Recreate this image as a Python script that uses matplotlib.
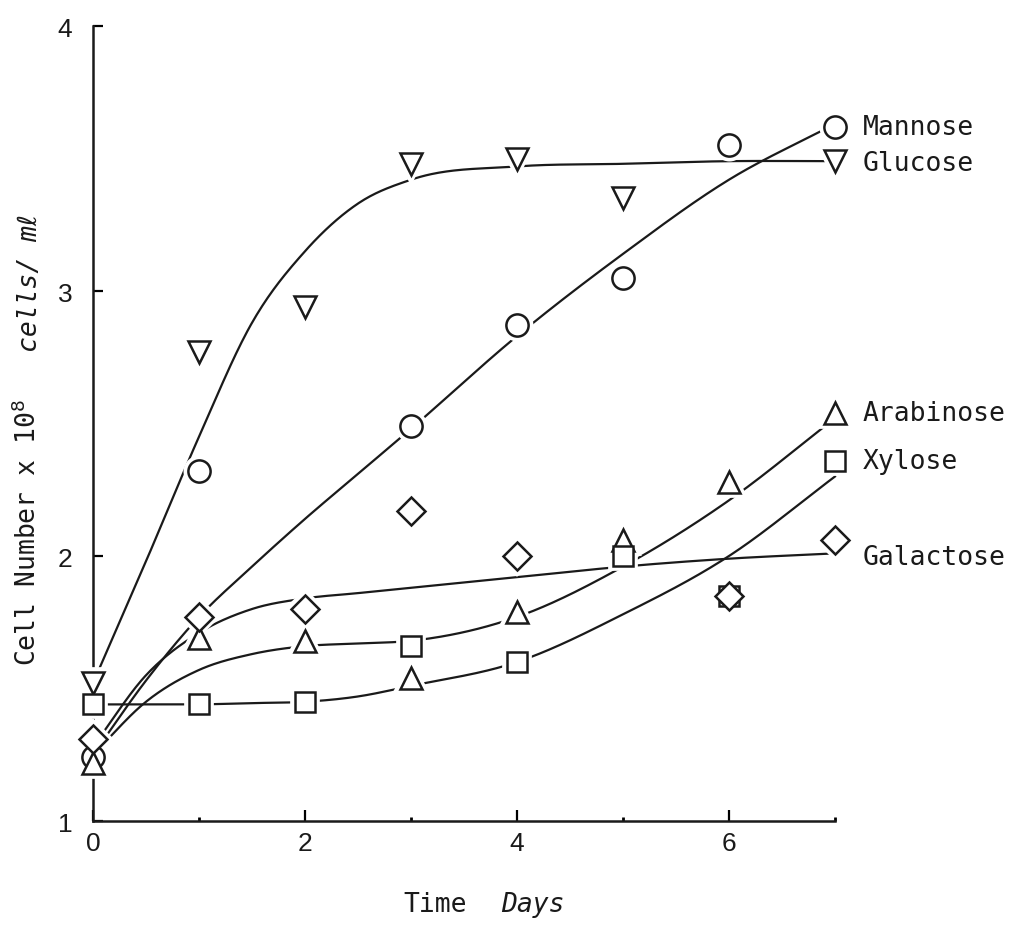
import numpy as np
import matplotlib.pyplot as plt
from matplotlib.ticker import MultipleLocator

# measured cell counts (x 10^8 cells/ml), None = not measured
days = [0, 1, 2, 3, 4, 5, 6, 7]
mannose   = [1.24, 2.32, None, 2.49, 2.87, 3.05, 3.55, 3.62]
glucose   = [1.52, 2.77, 2.94, 3.48, 3.50, 3.35, None, 3.49]
arabinose = [1.22, 1.69, 1.68, 1.54, 1.79, 2.06, 2.28, 2.54]
xylose    = [1.44, 1.44, 1.45, 1.66, 1.60, 2.00, 1.85, 2.36]
galactose = [1.31, 1.77, 1.80, 2.17, 2.00, None, 1.85, 2.06]

# hand-drawn trend curves, values read at these days
fit_days = [0, 0.5, 1, 1.5, 2, 2.5, 3, 4, 5, 6, 7]
mannose_fit   = [1.25, 1.53, 1.77, 1.96, 2.14, 2.31, 2.48, 2.83, 3.14, 3.42, 3.63]
glucose_fit   = [1.52, 1.98, 2.45, 2.88, 3.15, 3.33, 3.42, 3.47, 3.48, 3.49, 3.49]
arabinose_fit = [1.25, 1.45, 1.57, 1.63, 1.66, 1.67, 1.68, 1.77, 1.96, 2.21, 2.52]
xylose_fit    = [1.44, 1.44, 1.44, 1.445, 1.45, 1.47, 1.51, 1.60, 1.78, 2.00, 2.30]
galactose_fit = [1.28, 1.55, 1.71, 1.80, 1.84, 1.86, 1.88, 1.92, 1.96, 1.99, 2.01]

names = ['Mannose', 'Glucose', 'Arabinose', 'Xylose', 'Galactose']


def smooth_curve(xk, yk, n=400):
    # cubic hermite through the knots
    xk = np.asarray(xk, float)
    yk = np.asarray(yk, float)
    h = np.diff(xk)
    d = np.diff(yk) / h
    m = np.zeros_like(yk)
    m[0], m[-1] = d[0], d[-1]
    m[1:-1] = (d[:-1] * h[1:] + d[1:] * h[:-1]) / (h[:-1] + h[1:])
    xs = np.linspace(xk[0], xk[-1], n)
    i = np.clip(np.searchsorted(xk, xs) - 1, 0, len(h) - 1)
    t = (xs - xk[i]) / h[i]
    h00 = 2*t**3 - 3*t**2 + 1
    h10 = t**3 - 2*t**2 + t
    h01 = -2*t**3 + 3*t**2
    h11 = t**3 - t**2
    ys = h00*yk[i] + h10*h[i]*m[i] + h01*yk[i+1] + h11*h[i]*m[i+1]
    return xs, ys


def pts(vals):
    x = [d for d, v in zip(days, vals) if v is not None]
    y = [v for v in vals if v is not None]
    return x, y


series = [
    (mannose, mannose_fit, 'o', 16),
    (glucose, glucose_fit, 'v', 16),
    (arabinose, arabinose_fit, '^', 16),
    (xylose, xylose_fit, 's', 14),
    (galactose, galactose_fit, 'D', 14),
]
# label offsets (points) from the last marker
label_dy = [0, -1, 0, 0, -12]

fig = plt.figure(figsize=(10.24, 9.28), dpi=100)
ax = fig.add_axes([0.0908, 0.1142, 0.7246, 0.8567])

for (vals, fit, mk, ms), name, dy in zip(series, names, label_dy):
    xs, ys = smooth_curve(fit_days, fit)
    ax.plot(xs, ys, '-', color='#1a1a1a', lw=1.6, zorder=2, clip_on=False)
    x, y = pts(vals)
    # white halo so the curves stop short of the symbols
    ax.plot(x, y, mk, ms=ms, mfc='white', mec='white', mew=7,
            zorder=3, clip_on=False)
    ax.plot(x, y, mk, ms=ms, mfc='white', mec='#1a1a1a', mew=1.8,
            zorder=4, clip_on=False)
    ax.annotate(name, (x[-1], y[-1]), xytext=(20, dy),
                textcoords='offset points', va='center', ha='left',
                fontsize=19, family='DejaVu Sans Mono', color='#1a1a1a',
                annotation_clip=False)

ax.set_xlim(0, 7)
ax.set_ylim(1, 4)
ax.spines['top'].set_visible(False)
ax.spines['right'].set_visible(False)
for s in ['left', 'bottom']:
    ax.spines[s].set_linewidth(1.8)
    ax.spines[s].set_color('#1a1a1a')

ax.set_xticks([0, 2, 4, 6])
ax.xaxis.set_minor_locator(MultipleLocator(1))
ax.set_yticks([1, 2, 3, 4])
ax.tick_params(axis='x', which='major', direction='in', length=8, width=1.6,
               pad=7, labelsize=19)
ax.tick_params(axis='x', which='minor', direction='in', length=3, width=2)
ax.tick_params(axis='y', which='major', direction='in', length=7, width=1.6,
               pad=15, labelsize=19)
for lab in ax.get_xticklabels() + ax.get_yticklabels():
    lab.set_family('Liberation Sans')
    lab.set_color('#1a1a1a')

# axis titles
fig.text(0.027, 0.4256, 'Cell Number x 10$^{8}$', rotation=90, ha='center',
         va='center', fontsize=19, family='DejaVu Sans Mono', color='#1a1a1a')
fig.text(0.029, 0.695, 'cells/ m\u2113', rotation=90, ha='center', va='center',
         fontsize=19, style='italic', family=['DejaVu Sans Mono', 'DejaVu Sans'],
         color='#1a1a1a')
fig.text(0.425, 0.025, 'Time', ha='center', va='center', fontsize=19,
         family='DejaVu Sans Mono', color='#1a1a1a')
fig.text(0.52, 0.025, 'Days', ha='center', va='center', fontsize=19,
         style='italic', family='DejaVu Sans Mono', color='#1a1a1a')

fig.savefig('out.png', dpi=100)
